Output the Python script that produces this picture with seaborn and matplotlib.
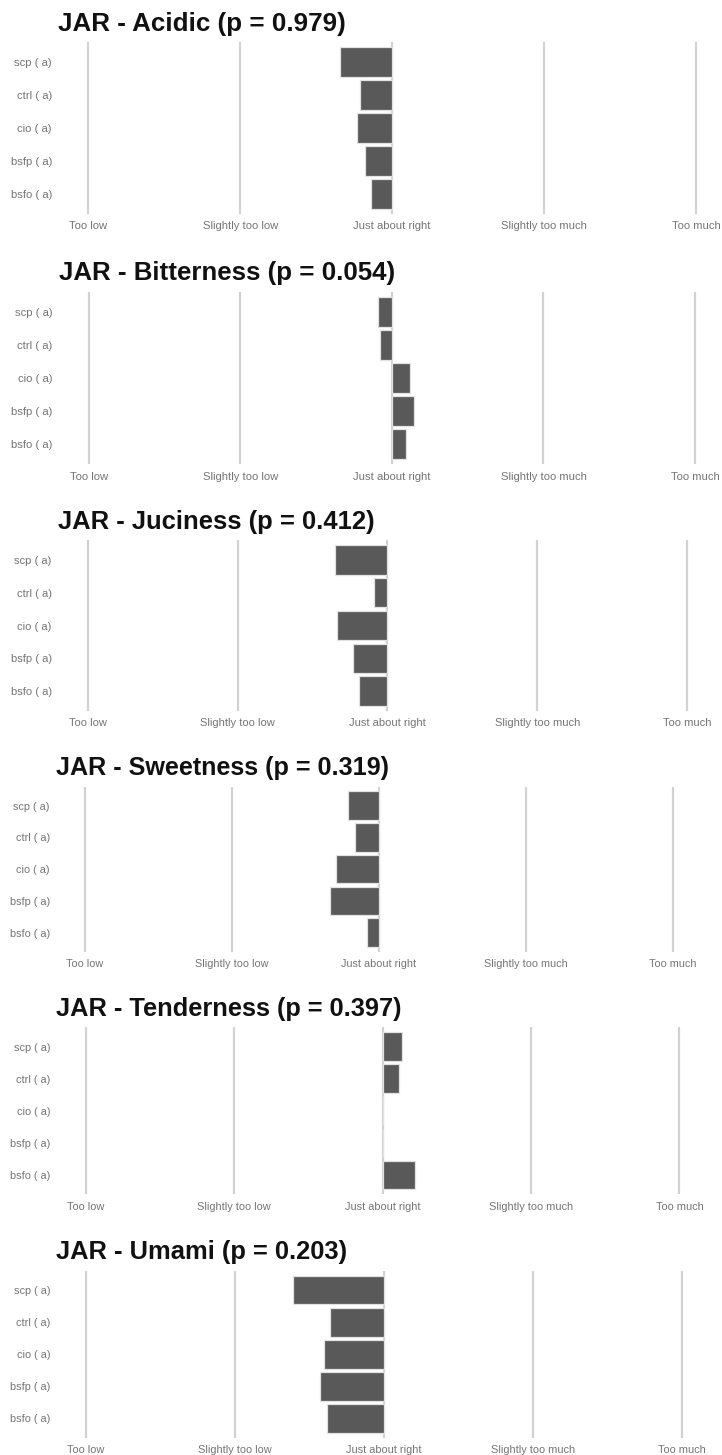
import matplotlib
matplotlib.use("Agg")
import matplotlib.pyplot as plt
import seaborn as sns
import pandas as pd

sns.set_style("white")
plt.rcParams["font.family"] = ["Liberation Sans", "DejaVu Sans"]

# Products (with significance letters) and JAR scale labels
products = ["scp ( a)", "ctrl ( a)", "cio ( a)", "bsfp ( a)", "bsfo ( a)"]
jar_levels = ["Too low", "Slightly too low", "Just about right",
              "Slightly too much", "Too much"]
jar_values = [1, 2, 3, 4, 5]
jar_center = 3

# Mean JAR scores per attribute, in product order
attributes = ["Acidic", "Bitterness", "Juciness", "Sweetness", "Tenderness", "Umami"]
p_values = [0.979, 0.054, 0.412, 0.319, 0.397, 0.203]
acidic = [2.66, 2.79, 2.77, 2.82, 2.86]
bitterness = [2.91, 2.92, 3.12, 3.145, 3.09]
juciness = [2.65, 2.91, 2.665, 2.77, 2.81]
sweetness = [2.79, 2.84, 2.71, 2.67, 2.92]
tenderness = [3.13, 3.11, 3.00, 3.00, 3.22]
umami = [2.39, 2.64, 2.60, 2.57, 2.62]
means = [acidic, bitterness, juciness, sweetness, tenderness, umami]

W, H = 722, 1455
# panel boxes in pixels: left, right, top, bottom
boxes = [
    (57.9, 726.4, 42.2, 213.8),
    (58.7, 725.3, 291.8, 463.9),
    (57.7, 717.3, 540.4, 710.6),
    (55.6, 702.4, 786.6, 951.7),
    (56.3, 709.1, 1027.4, 1194.3),
    (56.2, 711.8, 1270.8, 1437.6),
]

fig = plt.figure(figsize=(W / 100, H / 100), dpi=100)

for attr, p, vals, (l, r, t, b) in zip(attributes, p_values, means, boxes):
    ax = fig.add_axes([l / W, 1 - b / H, (r - l) / W, (b - t) / H])
    scale = (r - l) / 668.5
    df = pd.DataFrame({"product": products,
                       "deviation": [v - jar_center for v in vals]})
    sns.barplot(data=df, x="deviation", y="product", orient="h",
                color="#595959", saturation=1, width=0.9,
                edgecolor="#e2e2e2", linewidth=0.9, ax=ax, zorder=3)
    ax.set_xlim(-2.2, 2.2)
    ax.set_ylim(len(products) - 0.4, -0.6)
    ax.set_xticks([v - jar_center for v in jar_values])
    ax.set_xticklabels(jar_levels)
    ax.grid(axis="x", color="#d2d2d2", linewidth=1.6, zorder=0)
    ax.grid(axis="y", visible=False)
    ax.set_axisbelow(True)
    for s in ax.spines.values():
        s.set_visible(False)
    ax.tick_params(axis="both", length=0, labelsize=8.1 * scale,
                   labelcolor="#757575")
    ax.tick_params(axis="x", pad=5.5)
    ax.tick_params(axis="y", pad=4.3)
    ax.set_xlabel("")
    ax.set_ylabel("")
    ax.set_title(f"JAR - {attr} (p = {p:.3f})", loc="left",
                 fontsize=18.7 * scale, fontweight="bold", color="#111111",
                 pad=8.3)

fig.savefig("out.png", dpi=100)
